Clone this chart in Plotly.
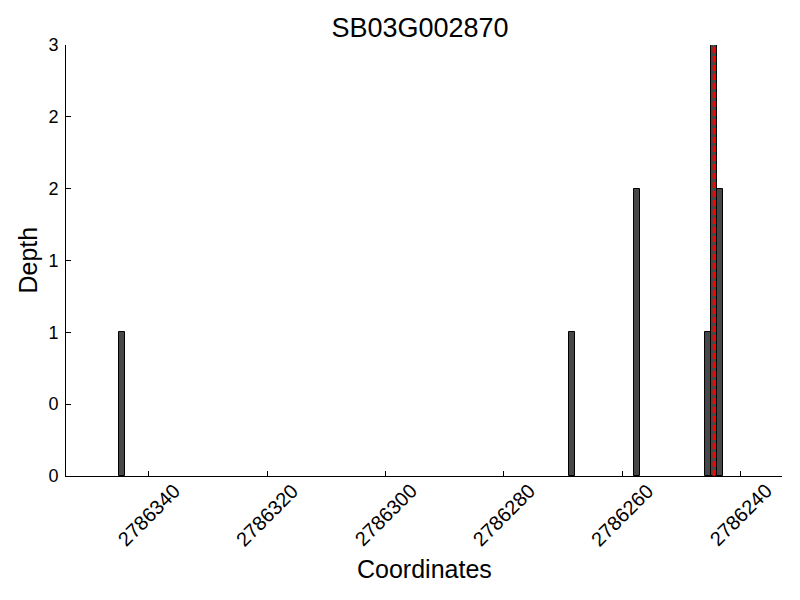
import plotly.graph_objects as go

# Data
coords = [2786344.5, 2786268.5, 2786257.5, 2786245.5, 2786244.5, 2786243.5]
depths = [1, 1, 2, 1, 3, 2]
bar_width = 1
marker_pos = 2786244.5
y_tickvals = [0, 0.5, 1, 1.5, 2, 2.5, 3]
y_ticktext = ["0", "0", "1", "1", "2", "2", "3"]
x_tickvals = [2786340, 2786320, 2786300, 2786280, 2786260, 2786240]
x_ticktext = ["2786340", "2786320", "2786300", "2786280", "2786260", "2786240"]
title = "SB03G002870"
x_label = "Coordinates"
y_label = "Depth"

FONT = "Liberation Sans, Arial, Helvetica, sans-serif"

# page body has an 8px margin; figure is sized to fill the rest of the 800x600 window
W, H = 792, 592
OFF = 8

fig = go.Figure()
fig.add_trace(go.Bar(
    x=coords, y=depths, width=bar_width,
    marker=dict(color="#474747", line=dict(color="black", width=1)),
    showlegend=False, hoverinfo="x+y",
))
fig.add_trace(go.Scatter(
    x=[marker_pos, marker_pos], y=[0, 3], mode="lines",
    line=dict(color="#ff0000", width=2.5, dash="6px,3px"),
    showlegend=False, hoverinfo="skip",
))

annotations = []
for v, t in zip(x_tickvals, x_ticktext):
    annotations.append(dict(
        x=v, xref="x", y=0, yref="paper", text=t, showarrow=False,
        textangle=-45, xanchor="center", yanchor="middle", yshift=-39,
        font=dict(family=FONT, size=20, color="black"),
    ))
# axis titles
annotations.append(dict(
    text=x_label, xref="paper", x=0.5, yref="paper", y=0, yshift=-(569 - 476),
    xanchor="center", yanchor="middle", showarrow=False,
    font=dict(family=FONT, size=25, color="black"),
))
annotations.append(dict(
    text=y_label, xref="paper", x=0, xshift=-(66 - 27), yref="paper", y=0.5,
    xanchor="center", yanchor="middle", showarrow=False, textangle=-90,
    font=dict(family=FONT, size=25, color="black"),
))

fig.update_layout(
    width=W, height=H,
    margin=dict(l=66 - OFF, r=18, t=45 - OFF, b=124, autoexpand=False),
    paper_bgcolor="white", plot_bgcolor="white",
    font=dict(family=FONT, color="black"),
    title=dict(text=title, x=(420 - OFF) / W, xanchor="center",
               y=1 - (28 - OFF) / H, yanchor="middle", yref="container",
               font=dict(size=27, family=FONT, color="black")),
    bargap=0,
    annotations=annotations,
    xaxis=dict(
        range=[2786354, 2786233], showgrid=False, zeroline=False,
        showline=True, linecolor="black", linewidth=1,
        ticks="inside", ticklen=5, tickcolor="black", tickwidth=1,
        tickvals=x_tickvals, showticklabels=False, automargin=False,
    ),
    yaxis=dict(
        range=[0, 3], showgrid=False, zeroline=False,
        showline=True, linecolor="black", linewidth=1,
        ticks="inside", ticklen=5, tickcolor="black", tickwidth=1,
        tickvals=y_tickvals, ticktext=y_ticktext, ticklabelstandoff=3,
        tickfont=dict(size=18, family=FONT, color="black"), automargin=False,
    ),
)

fig.write_html("out.html")
